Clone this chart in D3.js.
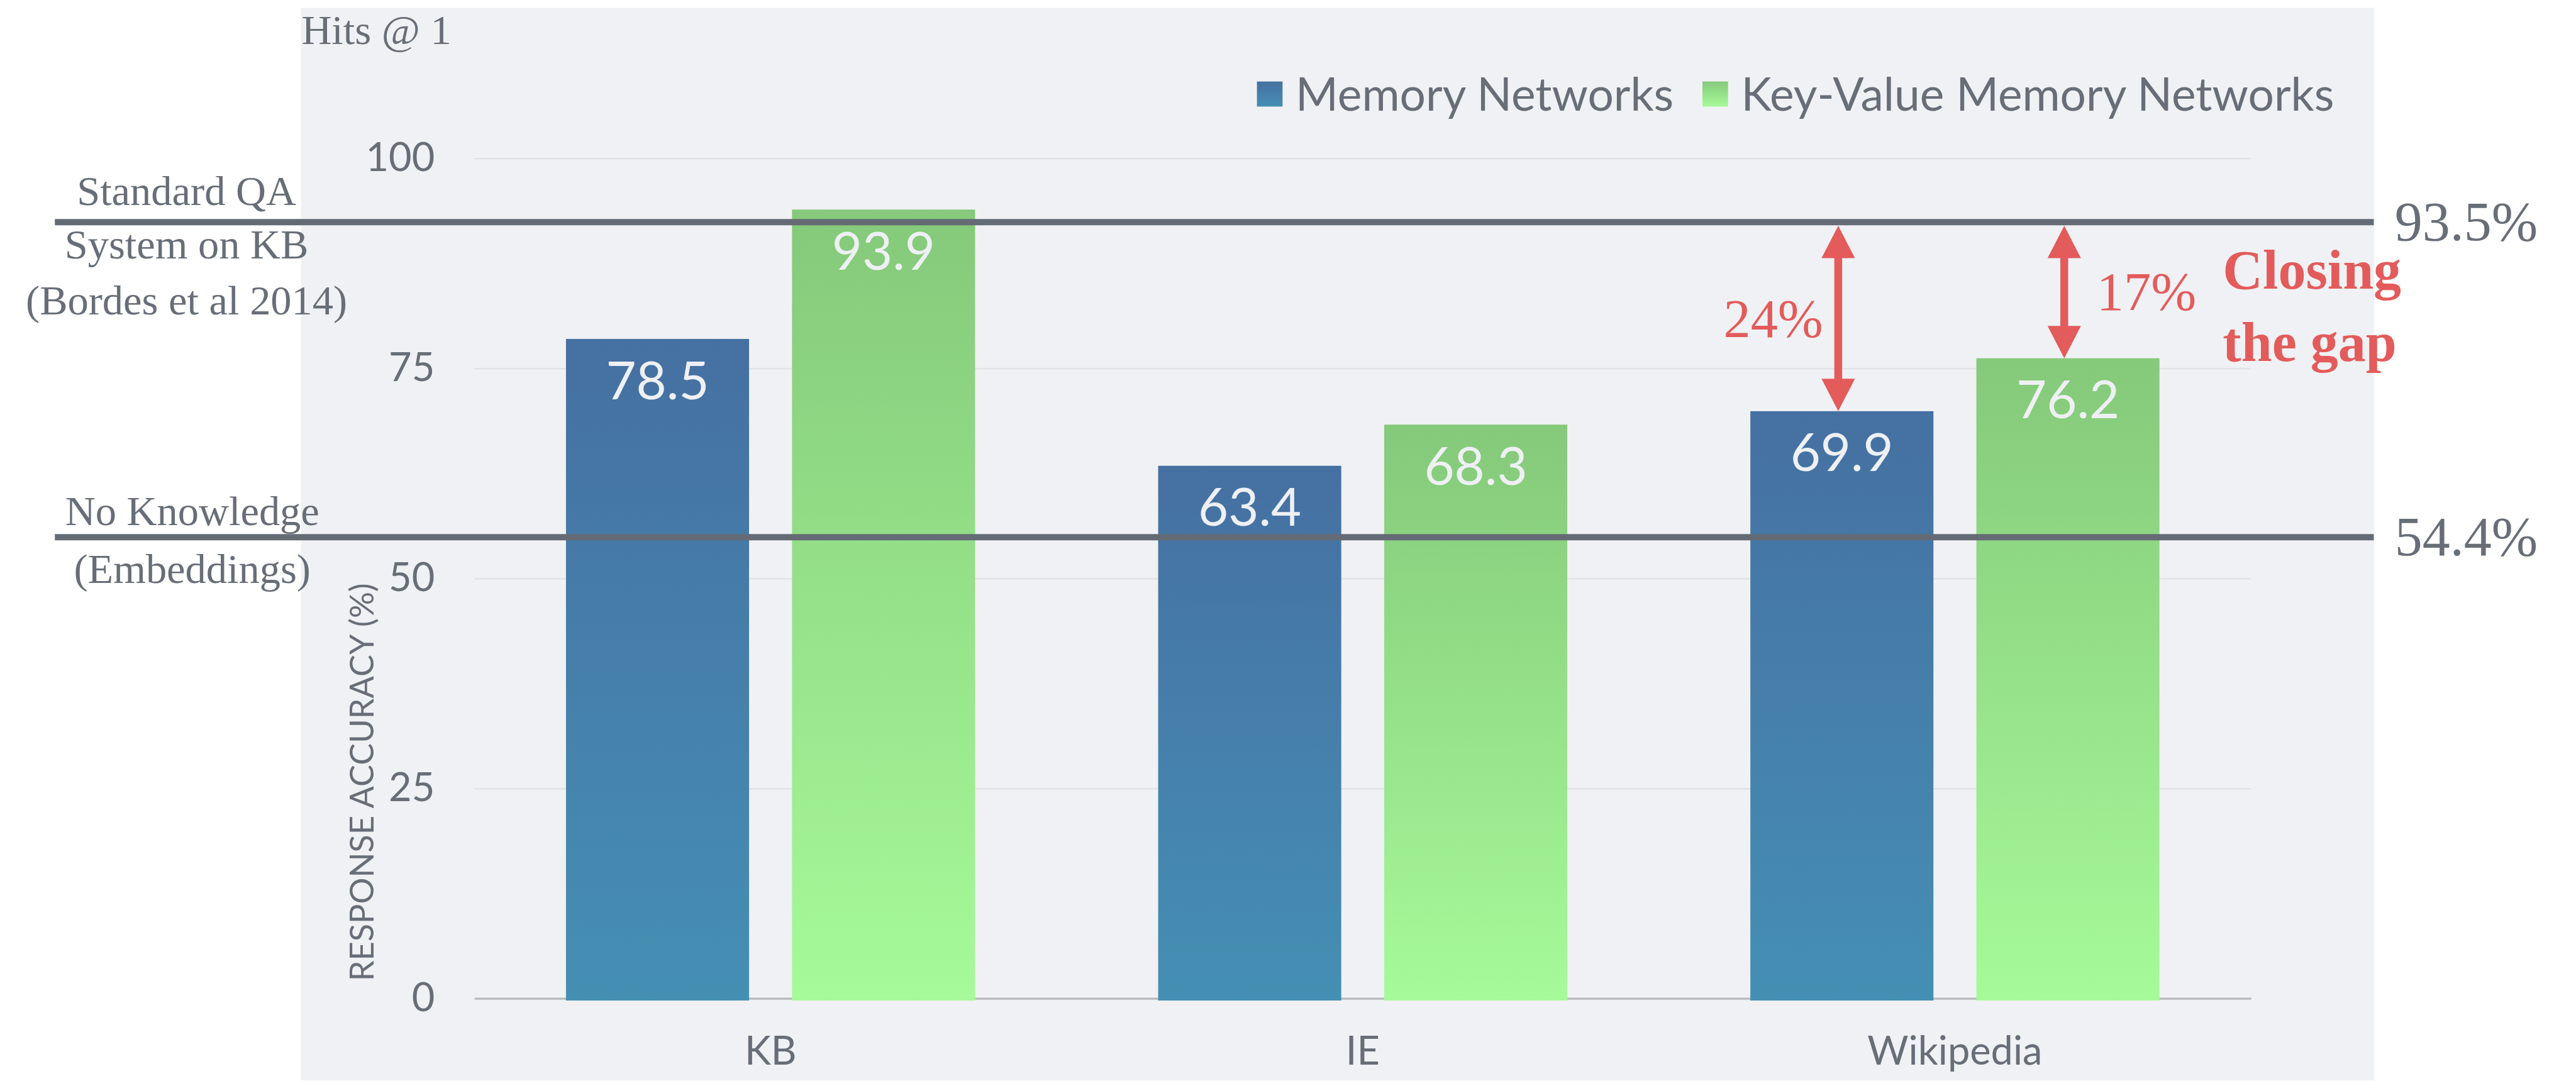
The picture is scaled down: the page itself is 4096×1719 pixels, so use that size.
<!DOCTYPE html>
<html>
<head>
<meta charset="utf-8">
<script src="https://cdn.jsdelivr.net/npm/d3@7"></script>
<style>
  body { margin: 0; background: #fff; }
  svg { display: block; }
</style>
</head>
<body>
<svg id="chart"></svg>
<script>
// data
var categories = ["KB", "IE", "Wikipedia"];
var seriesNames = ["Memory Networks", "Key-Value Memory Networks"];
var memoryNetworks = [78.5, 63.4, 69.9];
var keyValueNetworks = [93.9, 68.3, 76.2];
var yTicks = [0, 25, 50, 75, 100];

// reference systems, drawn as thick lines across the chart
var refLabels = ["93.5%", "54.4%"];
var refLevels = [92.4, 54.9];   // where the lines sit against the y axis in the picture
var refNotes = [["Standard QA", "System on KB", "(Bordes et al 2014)"],
                ["No Knowledge", "(Embeddings)"]];
var gapLabels = ["24%", "17%"];
var gapCategory = "Wikipedia";

var values = [memoryNetworks, keyValueNetworks];

// everything below is laid out in the reference's own pixels, then scaled down
var k = 4096 / 4930;
var svg = d3.select("#chart").attr("width", 4096).attr("height", 1719);
var root = svg.append("g").attr("transform", "scale(" + k + ")");

var grey = "#686e78", lineGrey = "#646b75", red = "#e35b5b";
var serif = "'Liberation Serif', 'Times New Roman', serif";
var sans = "Lato, 'Open Sans', sans-serif";

// bar gradients (top -> bottom)
var defs = root.append("defs");
function addGradient(id, top, bottom) {
  var g = defs.append("linearGradient").attr("id", id)
      .attr("x1", 0).attr("y1", 0).attr("x2", 0).attr("y2", 1);
  g.append("stop").attr("offset", "0%").attr("stop-color", top);
  g.append("stop").attr("offset", "100%").attr("stop-color", bottom);
}
addGradient("gBlue", "#4570a2", "#458fb3");
addGradient("gGreen", "#85c97a", "#a6fa99");
var fills = ["url(#gBlue)", "url(#gGreen)"];

// grey panel behind the chart
root.append("rect")
    .attr("x", 576).attr("y", 15)
    .attr("width", 3968).attr("height", 2053)
    .attr("fill", "#f0f1f4");

// scales
var x0 = d3.scaleBand().domain(categories).range([908, 4308]);
var x1 = d3.scaleBand().domain(d3.range(seriesNames.length))
    .range([0, x0.bandwidth()])
    .paddingInner(0.19).paddingOuter(0.405);
var y = d3.scaleLinear().domain([0, 100]).range([1911, 303]);

// gridlines
var grid = root.append("g")
    .attr("transform", "translate(908,0)")
    .call(d3.axisLeft(y).tickValues(yTicks.slice(1)).tickSize(-3400).tickFormat(""));
grid.select(".domain").remove();
grid.selectAll("line").attr("stroke", "#e2e3e7").attr("stroke-width", 3);

// y axis labels
var yAxis = root.append("g")
    .attr("transform", "translate(908,0)")
    .call(d3.axisLeft(y).tickValues(yTicks).tickSize(0).tickPadding(76));
yAxis.select(".domain").remove();
yAxis.selectAll("text")
    .attr("fill", grey)
    .style("font-family", sans)
    .style("font-size", "76px");

// x axis
var xAxis = root.append("g")
    .attr("transform", "translate(0," + y(0) + ")")
    .call(d3.axisBottom(x0).tickSize(0).tickSizeOuter(0).tickPadding(73));
xAxis.select(".domain").attr("stroke", "#b6b9be").attr("stroke-width", 4);
xAxis.selectAll("text")
    .attr("fill", grey)
    .style("font-family", sans)
    .style("font-size", "76px");

// y axis title
root.append("text")
    .attr("transform", "translate(715,1497) rotate(-90)")
    .attr("text-anchor", "middle")
    .attr("fill", grey)
    .style("font-family", sans)
    .style("font-size", "63px")
    .text("RESPONSE ACCURACY (%)");

// bars
var groups = root.selectAll(".cat")
    .data(categories)
  .enter().append("g")
    .attr("class", "cat")
    .attr("transform", function(d) { return "translate(" + x0(d) + ",0)"; });

groups.selectAll("rect")
    .data(function(d, i) { return values.map(function(v, s) { return {s: s, v: v[i]}; }); })
  .enter().append("rect")
    .attr("x", function(d) { return x1(d.s); })
    .attr("y", function(d) { return y(d.v); })
    .attr("width", x1.bandwidth())
    .attr("height", function(d) { return y(0) - y(d.v) + 4; })
    .attr("fill", function(d) { return fills[d.s]; });

groups.selectAll(".val")
    .data(function(d, i) { return values.map(function(v, s) { return {s: s, v: v[i]}; }); })
  .enter().append("text")
    .attr("class", "val")
    .attr("x", function(d) { return x1(d.s) + x1.bandwidth() / 2; })
    .attr("y", function(d) { return y(d.v) + 115; })
    .attr("text-anchor", "middle")
    .attr("fill", "#eef0f4")
    .style("font-family", sans)
    .style("font-size", "100px")
    .text(function(d) { return d.v.toFixed(1); });

// reference lines with their notes
var noteOffsets = [[-33, 70, 177], [-23, 88]];
var noteCenters = [357, 368];
refLevels.forEach(function(level, i) {
  var ly = y(level);
  root.append("line")
      .attr("x1", 105).attr("x2", 4543)
      .attr("y1", ly).attr("y2", ly)
      .attr("stroke", lineGrey)
      .attr("stroke-width", 12);

  root.append("text")
      .attr("x", 4583).attr("y", ly + 35)
      .attr("fill", grey)
      .style("font-family", serif)
      .style("font-size", "106px")
      .text(refLabels[i]);

  refNotes[i].forEach(function(t, j) {
    root.append("text")
        .attr("x", noteCenters[i]).attr("y", ly + noteOffsets[i][j])
        .attr("text-anchor", "middle")
        .attr("fill", grey)
        .style("font-family", serif)
        .style("font-size", "80px")
        .text(t);
  });
});

// gap arrows between the top line and the Wikipedia bars
var gi = categories.indexOf(gapCategory);
values.forEach(function(v, s) {
  var cx = x0(gapCategory) + x1(s) + x1.bandwidth() / 2 - 7;
  var yTop = y(refLevels[0]) + 7;
  var yBot = y(v[gi]);
  var head = 62, half = 32;

  root.append("line")
      .attr("x1", cx).attr("x2", cx)
      .attr("y1", yTop + head - 2).attr("y2", yBot - head + 2)
      .attr("stroke", red).attr("stroke-width", 15);
  root.append("path")
      .attr("d", "M" + cx + "," + yTop + "L" + (cx + half) + "," + (yTop + head) + "L" + (cx - half) + "," + (yTop + head) + "Z")
      .attr("fill", red);
  root.append("path")
      .attr("d", "M" + cx + "," + yBot + "L" + (cx + half) + "," + (yBot - head) + "L" + (cx - half) + "," + (yBot - head) + "Z")
      .attr("fill", red);

  root.append("text")
      .attr("x", s === 0 ? cx - 29 : cx + 62)
      .attr("y", (yTop + yBot) / 2 + 35)
      .attr("text-anchor", s === 0 ? "end" : "start")
      .attr("fill", red)
      .style("font-family", serif)
      .style("font-size", "104px")
      .text(gapLabels[s]);
});

// "Closing the gap"
root.append("text")
    .attr("x", 4254).attr("y", 553)
    .attr("fill", red)
    .style("font-family", serif)
    .style("font-weight", "bold")
    .style("font-size", "106px")
    .text("Closing");
root.append("text")
    .attr("x", 4254).attr("y", 691)
    .attr("fill", red)
    .style("font-family", serif)
    .style("font-weight", "bold")
    .style("font-size", "106px")
    .text("the gap");

// "Hits @ 1" over the axis
root.append("text")
    .attr("x", 577).attr("y", 84)
    .attr("fill", grey)
    .style("font-family", serif)
    .style("font-size", "80px")
    .text("Hits @ 1");

// legend, right aligned
var legend = root.append("g");
var lx = 0;
seriesNames.forEach(function(name, s) {
  var item = legend.append("g").attr("transform", "translate(" + lx + ",0)");
  item.append("rect")
      .attr("x", 0).attr("y", 156)
      .attr("width", 49).attr("height", 48)
      .attr("fill", fills[s]);
  var t = item.append("text")
      .attr("x", 74).attr("y", 212)
      .attr("fill", grey)
      .style("font-family", sans)
      .style("font-size", "88px")
      .text(name);
  lx += 74 + t.node().getComputedTextLength() + 55;
});
legend.attr("transform", "translate(" + (4467 - (lx - 55)) + ",0)");
</script>
</body>
</html>
